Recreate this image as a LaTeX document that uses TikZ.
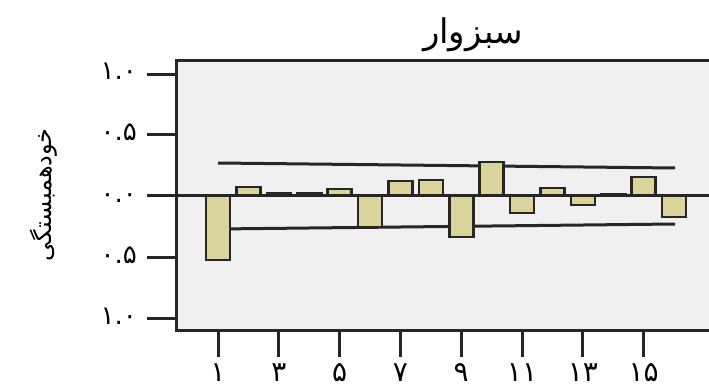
\documentclass[tikz,border=0pt]{standalone}
\usepackage{fontspec}
\newfontfamily\arabicfont[Script=Arabic]{DejaVu Sans}
\newfontfamily\digitfont{DejaVu Sans}
\TeXXeTstate=1
\definecolor{plotbg}{HTML}{F0F0F0}
\definecolor{barfill}{HTML}{D9D49C}
\definecolor{ink}{HTML}{262626}
\begin{document}
\begin{tikzpicture}[x=1pt,y=-1pt,
  frameline/.style={draw=ink,line width=3pt},
  barbox/.style={draw=ink,line width=2.6pt,fill=barfill},
  tickline/.style={draw=ink,line width=3pt},
  confline/.style={draw=ink,line width=3pt},
  ticklab/.style={font=\digitfont\fontsize{26}{26}\selectfont,inner sep=0pt,anchor=base east},
  xlab/.style={font=\digitfont\fontsize{28}{28}\selectfont,inner sep=0pt}]
\useasboundingbox (0,0) rectangle (709,390);
\fill[white] (0,0) rectangle (709,390);
\begin{scope}
\clip (0,0) rectangle (709,390);
% plot area
\fill[plotbg] (176,61) rectangle (715,330);
\draw[frameline] (715,61) -- (176,61) -- (176,330) -- (715,330);
% confidence limits
\draw[confline] (218,163) -- (675,168);
\draw[confline] (218,229) -- (675,224);
% bars
\foreach \k/\v in {1/260,2/187,3/193.5,4/193,5/189,6/227,7/181,8/180,9/237,10/162,11/213,12/188,13/205,14/194,15/177,16/217}{
  \pgfmathsetmacro{\cx}{218+(\k-1)*30.4}
  \draw[barbox] (\cx-12,196) rectangle (\cx+12,\v);
}
% zero line
\draw[tickline] (147,196) -- (715,196);
\end{scope}
% y ticks and labels
\foreach \yy in {75,135,196,257,318}{
  \draw[tickline] (147,\yy) -- (176,\yy);
}
\node[ticklab] (y1) at (137,80) {۱.۰};
\node[ticklab] (y2) at (137,141) {۰.۵};
\node[ticklab] (y3) at (137,202) {۰.۰};
\node[ticklab] (y4) at (137,263) {۰.۵};
\node[ticklab] (y5) at (137,324) {۱.۰};
% x ticks
\foreach \k in {1,3,5,7,9,11,13,15}{
  \pgfmathsetmacro{\cx}{218+(\k-1)*30.4}
  \draw[tickline] (\cx,330) -- (\cx,357);
}
\node[xlab] (x1) at (218,373) {۱};
\node[xlab] (x3) at (278.8,373) {۳};
\node[xlab] (x5) at (339.6,373) {۵};
\node[xlab] (x7) at (400.4,373) {۷};
\node[xlab] (x9) at (461.2,373) {۹};
\node[xlab] (x11) at (522,373) {۱۱};
\node[xlab] (x13) at (582.8,373) {۱۳};
\node[xlab] (x15) at (643.6,373) {۱۵};
% title
\node[font=\arabicfont\fontsize{34}{34}\selectfont,inner sep=0pt] (title) at (473,35) {\beginR سبزوار\endR};
% y axis label
\node[font=\arabicfont\fontsize{24}{24}\selectfont,inner sep=0pt,rotate=90] (ylabel) at (44,195) {\beginR خودهمبستگی\endR};
\end{tikzpicture}
\end{document}
